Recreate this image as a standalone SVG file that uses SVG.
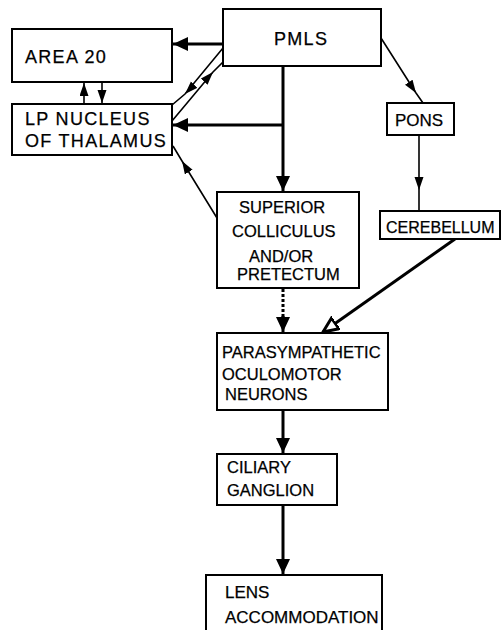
<svg xmlns="http://www.w3.org/2000/svg" width="502" height="630" viewBox="0 0 502 630">
<defs>
<style>
.box{fill:#fff;stroke:#000;stroke-width:2}
.t{font-family:"Liberation Sans","DejaVu Sans",Arial,sans-serif;fill:#000;stroke:#000;stroke-width:0.25}
.big{font-size:18px;letter-spacing:1.3px}
.sm{font-size:16.5px}
.thick{fill:none;stroke:#000;stroke-width:3}
.thin{fill:none;stroke:#000;stroke-width:1.6}
</style>
<marker id="ab" markerUnits="userSpaceOnUse" markerWidth="16" markerHeight="15" refX="15" refY="7" orient="auto"><path d="M0,0 L15,7 L0,14 z" fill="#000"/></marker>
<marker id="as" markerUnits="userSpaceOnUse" markerWidth="14" markerHeight="10" refX="13" refY="4.5" orient="auto"><path d="M0,0 L13,4.5 L0,9 z" fill="#000"/></marker>
<marker id="ao" markerUnits="userSpaceOnUse" markerWidth="20" markerHeight="18" refX="16" refY="8" orient="auto"><path d="M1,1.5 L16,8 L1,14.5 z" fill="#fff" stroke="#000" stroke-width="3"/></marker>
</defs>
<g id="connectors">
<line class="thick" x1="223" y1="44" x2="173" y2="44" marker-end="url(#ab)"/>
<polyline class="thin" points="223,48 185,94 172,105" marker-mid="url(#as)"/>
<polyline class="thin" points="172,121 213,72 223,62" marker-mid="url(#as)"/>
<line class="thin" x1="84" y1="104" x2="84" y2="83" marker-end="url(#as)"/>
<line class="thin" x1="102" y1="82" x2="102" y2="103" marker-end="url(#as)"/>
<line class="thick" x1="283" y1="66" x2="283" y2="191" marker-end="url(#ab)"/>
<line class="thick" x1="283" y1="125" x2="173" y2="125" marker-end="url(#ab)"/>
<polyline class="thin" points="217,218 182,161 173,146" marker-mid="url(#as)"/>
<polyline class="thin" points="381,38 416,93 423,103" marker-mid="url(#as)"/>
<polyline class="thin" points="419,135 419,190 419,211" marker-mid="url(#as)"/>
<line class="thick" x1="283" y1="289" x2="283" y2="318" stroke-dasharray="3,2"/>
<line class="thick" x1="283" y1="316" x2="283" y2="332" marker-end="url(#ab)"/>
<line class="thick" x1="455" y1="239" x2="323" y2="332" marker-end="url(#ao)"/>
<line class="thick" x1="283" y1="410" x2="283" y2="453" marker-end="url(#ab)"/>
<line class="thick" x1="283" y1="505" x2="283" y2="574" marker-end="url(#ab)"/>
</g>
<g id="area20"><rect class="box" x="12" y="29" width="160" height="53"/><text class="t big" x="25" y="63">AREA 20</text></g>
<g id="lp"><rect class="box" x="12" y="104" width="160" height="51"/><text class="t big" x="25" y="125">LP NUCLEUS</text><text class="t big" x="25" y="147">OF THALAMUS</text></g>
<g id="pmls"><rect class="box" x="223" y="9" width="158" height="57"/><text class="t big" x="274" y="45">PMLS</text></g>
<g id="pons"><rect class="box" x="387" y="103" width="67" height="32"/><text class="t sm" x="395" y="126" style="font-size:17px">PONS</text></g>
<g id="cerebellum"><rect class="box" x="380" y="211" width="120" height="28"/><text class="t sm" x="386" y="233" style="font-size:16px">CEREBELLUM</text></g>
<g id="superior"><rect class="box" x="217" y="192" width="142" height="96"/><text class="t sm" x="239" y="213">SUPERIOR</text><text class="t sm" x="232" y="237">COLLICULUS</text><text class="t sm" x="249" y="262">AND/OR</text><text class="t sm" x="237" y="280">PRETECTUM</text></g>
<g id="para"><rect class="box" x="217" y="333" width="171" height="77"/><text class="t sm" x="222" y="358">PARASYMPATHETIC</text><text class="t sm" x="222" y="380">OCULOMOTOR</text><text class="t sm" x="225" y="400">NEURONS</text></g>
<g id="ciliary"><rect class="box" x="217" y="454" width="120" height="51"/><text class="t sm" x="227" y="473">CILIARY</text><text class="t sm" x="227" y="496">GANGLION</text></g>
<g id="lens"><rect class="box" x="206" y="575" width="176" height="70"/><text class="t sm" x="225" y="598" style="font-size:17px">LENS</text><text class="t sm" x="225" y="623" style="font-size:17px">ACCOMMODATION</text></g>
</svg>
